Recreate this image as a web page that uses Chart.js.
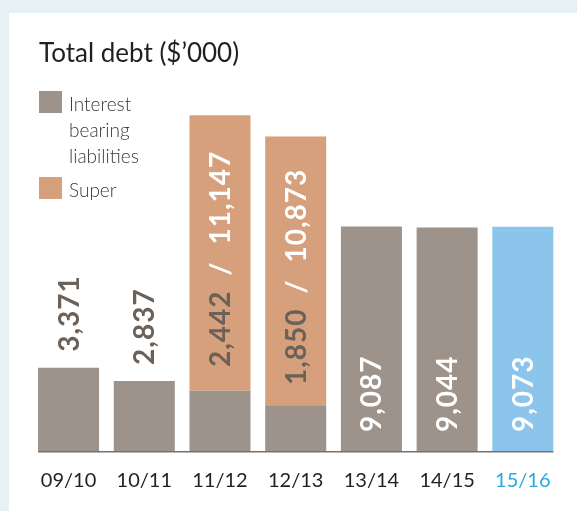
<!DOCTYPE html>
<html>
<head>
<meta charset="utf-8">
<script src="https://cdn.jsdelivr.net/npm/chart.js@4.4.1/dist/chart.umd.min.js"></script>
<style>
  html, body { margin: 0; padding: 0; width: 577px; height: 511px; overflow: hidden; background: #e7f0f3; }
  .panel { position: absolute; left: 9px; top: 13px; width: 568px; height: 498px; background: #fff; }
</style>
</head>
<body>
<div class="panel"><canvas id="debtChart"></canvas></div>
<script>
const years = ["09/10", "10/11", "11/12", "12/13", "13/14", "14/15", "15/16"];
const interestBearing = [3371, 2837, 2442, 1850, 9087, 9044, 9073];
const superDebt = [null, null, 11147, 10873, null, null, null];
const seriesNames = ["Interest bearing liabilities", "Super"];
const chartTitle = "Total debt ($\u2019000)";

const GREY = "#9d938b";
const ORANGE = "#d6a07c";
const BLUE = "#8cc5eb";
const TEXT_GREY = "#6b6159";
const CURRENT_YEAR = years.length - 1;

const fmt = v => v.toLocaleString("en-US");

// title + legend drawn by hand so they sit where the original has them
const header = {
    id: "header",
    afterDraw(chart) {
        const ctx = chart.ctx;
        ctx.save();
        ctx.fillStyle = "#231f20";
        ctx.font = "26px Lato";
        ctx.textBaseline = "alphabetic";
        ctx.fillText(chartTitle, 30, 49);

        ctx.font = "300 19px Lato";
        let y = 78;
        chart.data.datasets.forEach(ds => {
            const colour = Array.isArray(ds.backgroundColor) ? ds.backgroundColor[0] : ds.backgroundColor;
            ctx.fillStyle = colour;
            ctx.fillRect(30, y, 23, 22);
            // wrap the label into short lines
            const lines = [];
            let line = "";
            ds.label.split(" ").forEach(w => {
                const test = line ? line + " " + w : w;
                if (line && ctx.measureText(test).width > 85) {
                    lines.push(line);
                    line = w;
                } else {
                    line = test;
                }
            });
            lines.push(line);
            ctx.fillStyle = "#3d3838";
            lines.forEach((l, i) => ctx.fillText(l, 60, y + 20 + i * 26));
            y += lines.length * 26 + 8;
        });
        ctx.restore();
    }
};

const valueLabels = {
    id: "valueLabels",
    afterDatasetsDraw(chart) {
        const ctx = chart.ctx;
        const lower = chart.getDatasetMeta(0).data;
        const upper = chart.getDatasetMeta(1).data;
        const bottom = chart.chartArea.bottom;
        ctx.save();
        ctx.font = "bold 28px Lato";
        ctx.letterSpacing = "1px";
        ctx.textAlign = "left";
        ctx.textBaseline = "alphabetic";
        const capH = 20;

        const drawUp = (x, y, parts) => {
            ctx.save();
            ctx.translate(x, y);
            ctx.rotate(-Math.PI / 2);
            let pos = 0;
            parts.forEach(p => {
                pos += p.gap || 0;
                ctx.fillStyle = p.color;
                ctx.fillText(p.text, pos, capH / 2);
                pos += ctx.measureText(p.text).width;
            });
            ctx.restore();
        };

        lower.forEach((bar, i) => {
            const a = fmt(interestBearing[i]);
            if (superDebt[i] != null) {
                const parts = [
                    { text: a, color: TEXT_GREY },
                    { text: "/", color: "#fff", gap: 15 },
                    { text: fmt(superDebt[i]), color: "#fff", gap: 17 }
                ];
                let total = 0;
                parts.forEach(p => { total += (p.gap || 0) + ctx.measureText(p.text).width; });
                const seg = upper[i];
                const mid = (seg.y + seg.base) / 2 + 6;
                drawUp(bar.x, mid + total / 2, parts);
            } else if (bottom - bar.y > 120) {
                drawUp(bar.x, bottom - 19, [{ text: a, color: "#fff" }]);
            } else {
                drawUp(bar.x, bar.y - 16, [{ text: a, color: TEXT_GREY }]);
            }
        });

        // base line under the bars only
        const first = lower[0], last = lower[lower.length - 1];
        ctx.strokeStyle = "#7b6f67";
        ctx.lineWidth = 1.5;
        ctx.beginPath();
        ctx.moveTo(first.x - first.width / 2, bottom + 0.75);
        ctx.lineTo(last.x + last.width / 2, bottom + 0.75);
        ctx.stroke();
        ctx.restore();
    }
};

const ctx = document.getElementById("debtChart").getContext("2d");
new Chart(ctx, {
    type: "bar",
    data: {
        labels: years,
        datasets: [{
            label: seriesNames[0],
            data: interestBearing,
            backgroundColor: years.map((y, i) => i === CURRENT_YEAR ? BLUE : GREY),
            borderWidth: 0,
            categoryPercentage: 1,
            barPercentage: 0.806,
        }, {
            label: seriesNames[1],
            data: superDebt,
            backgroundColor: ORANGE,
            borderWidth: 0,
            categoryPercentage: 1,
            barPercentage: 0.806,
        }],
    },
    options: {
        responsive: true,
        maintainAspectRatio: false,
        animation: false,
        layout: {
            padding: { top: 92, left: 21.7, right: 16.3, bottom: 0 }
        },
        scales: {
            x: {
                stacked: true,
                offset: true,
                grid: { display: false, drawTicks: false },
                border: { display: false },
                ticks: {
                    padding: 18,
                    font: { family: "Lato", size: 20 },
                    color: c => c.index === CURRENT_YEAR ? "#29a8e0" : "#231f20",
                },
            },
            y: {
                stacked: true,
                display: false,
                min: 0,
                max: 14000,
            },
        },
        plugins: {
            legend: { display: false },
            tooltip: { enabled: false },
        },
    },
    plugins: [header, valueLabels],
});
</script>
</body>
</html>
